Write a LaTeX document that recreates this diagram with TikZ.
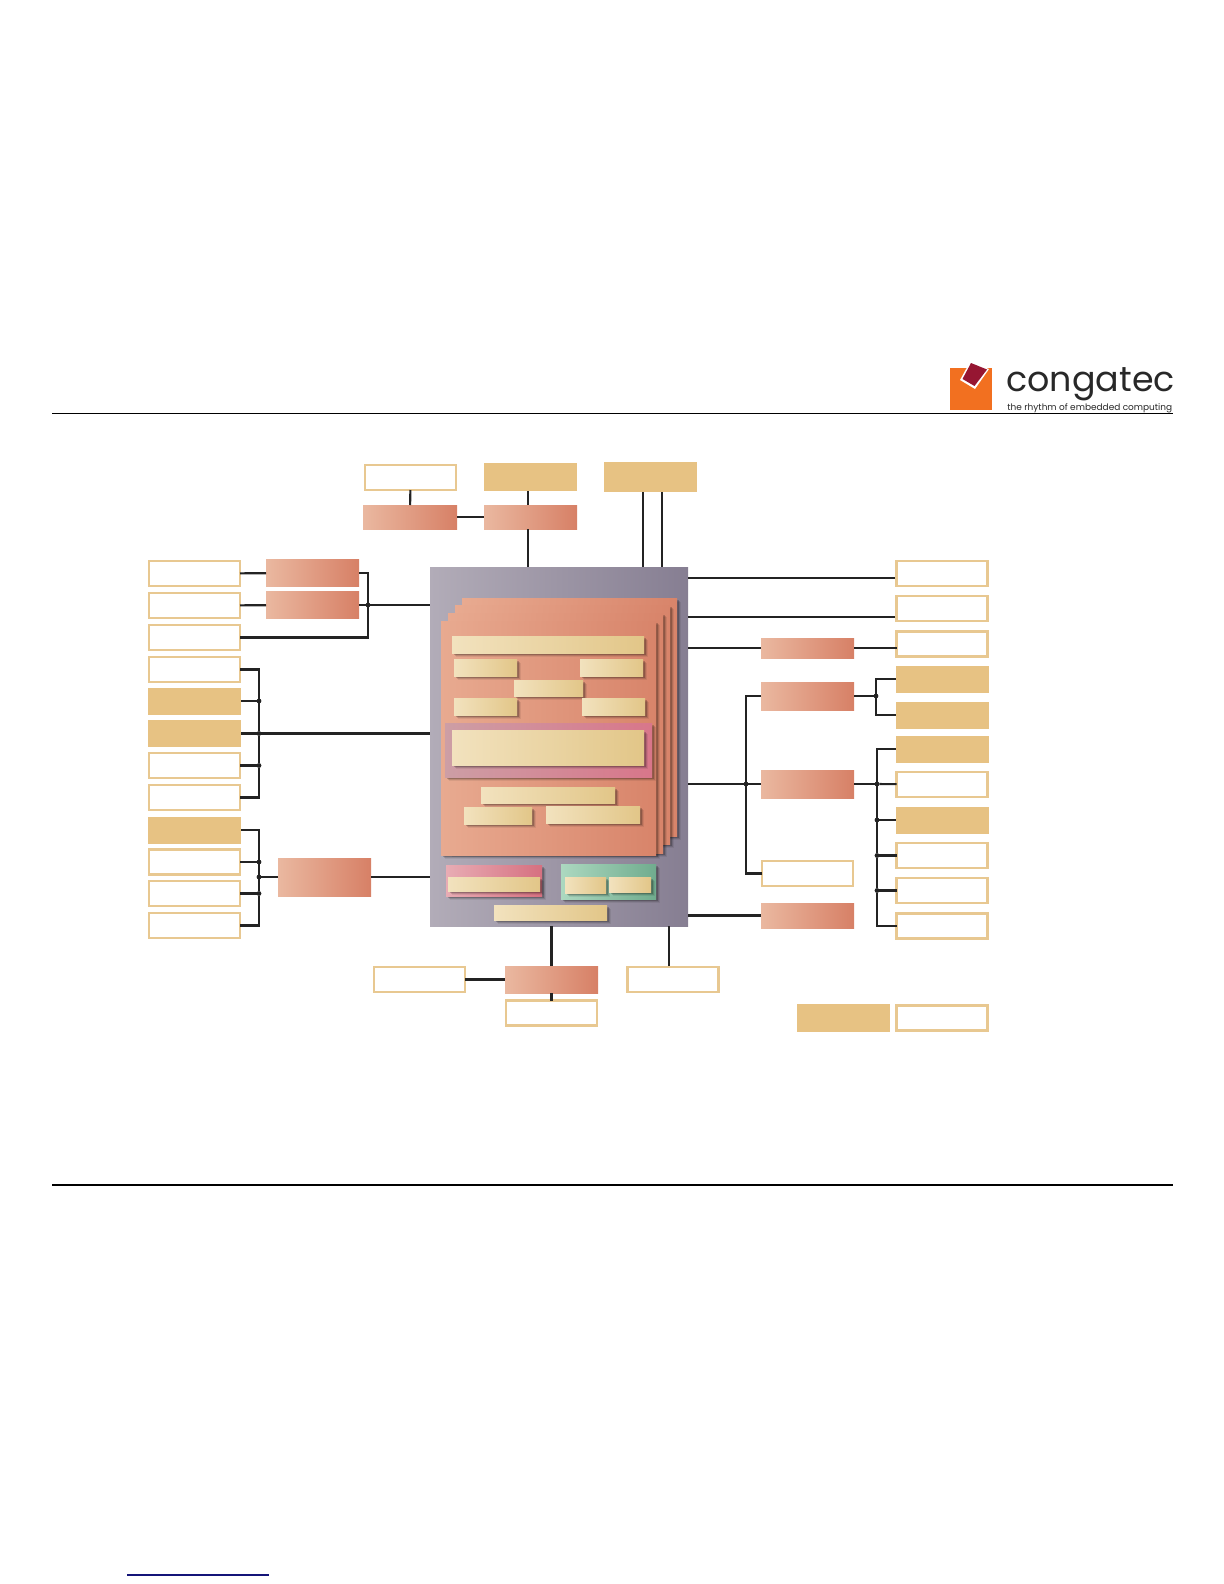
\documentclass[tikz,border=0pt]{standalone}
\usepackage{fontspec}
\usetikzlibrary{shadows}
\newfontfamily\logofont{Poppins}
\definecolor{wire}{RGB}{35,35,35}
\definecolor{slotedge}{RGB}{232,200,145}
\definecolor{slotfill}{RGB}{231,194,131}
\definecolor{bridgeL}{RGB}{234,184,160}
\definecolor{bridgeR}{RGB}{215,128,102}
\definecolor{chipL}{RGB}{178,172,184}
\definecolor{chipR}{RGB}{134,126,146}
\definecolor{sheetL}{RGB}{232,170,144}
\definecolor{sheetR}{RGB}{216,132,106}
\definecolor{unitL}{RGB}{242,226,190}
\definecolor{unitR}{RGB}{226,198,136}
\definecolor{pinkL}{RGB}{205,158,165}
\definecolor{pinkR}{RGB}{216,118,138}
\definecolor{pinktopL}{RGB}{232,172,180}
\definecolor{pinktopR}{RGB}{214,112,128}
\definecolor{greenL}{RGB}{172,216,192}
\definecolor{greenR}{RGB}{112,172,142}
\definecolor{logoorange}{RGB}{242,112,32}
\definecolor{logored}{RGB}{150,22,50}
\definecolor{logotext}{RGB}{40,40,40}
\definecolor{linkblue}{RGB}{20,20,120}

\begin{document}
\begin{tikzpicture}[
  x=0.5bp, y=-0.5bp,
  sized/.style 2 args={minimum width=#1*0.5bp, minimum height=#2*0.5bp},
  plain/.style={rectangle, inner sep=0pt, outer sep=0pt, sized={93}{27}},
  slot/.style={plain, draw=slotedge, fill=white, line width=1.35pt, sized={91}{25}},
  slotsolid/.style={plain, fill=slotfill},
  bridge/.style={plain, left color=bridgeL, right color=bridgeR},
  softshadow/.style={
    drop shadow={shadow xshift=2.2pt, shadow yshift=-2.2pt, opacity=0.07, fill=black},
    drop shadow={shadow xshift=1.5pt, shadow yshift=-1.5pt, opacity=0.12, fill=black},
    drop shadow={shadow xshift=0.9pt, shadow yshift=-0.9pt, opacity=0.2, fill=black}},
  sheet/.style={plain, left color=sheetL, right color=sheetR, softshadow},
  unit/.style={plain, left color=unitL, right color=unitR, softshadow},
  link/.style={draw=wire, line width=1.05pt},
  linkthick/.style={draw=wire, line width=1.25pt},
  dot/.style={circle, fill=wire, inner sep=0pt, outer sep=0pt, minimum size=2.4pt},
]

  % Page frame, same size as the letter sheet
  \path[use as bounding box] (0,0) rectangle (1224,1584);

  % --- Logo and page rules ---
  \fill[logoorange] (950,368) rectangle (992,410);
  \fill[white] (970,362) -- (989,369) -- (975,389) -- (960,380) -- cycle;
  \fill[logored] (971,363) -- (987,369.5) -- (974.5,386) -- (962.5,379) -- cycle;
  \node[font=\logofont\fontsize{17.5}{17.5}\selectfont, text=logotext, inner sep=0pt, anchor=base west]
    (logoname) at (1006,391) {congatec};
  \node[font=\logofont\fontsize{4.5}{5}\selectfont, text=logotext, inner sep=0pt, anchor=base west]
    (logotag) at (1007,410) {the rhythm of embedded computing};
  \draw[black, line width=0.45pt] (52,413) -- (1173,413);
  \draw[black, line width=0.6pt] (52,1185) -- (1173,1185);
  \draw[linkblue, line width=0.6pt] (127,1575) -- (269,1575);

  % --- Carrier (grey) ---
  \node[plain, left color=chipL, right color=chipR, sized={258}{359}] (chip) at (559,746.5) {};

  % --- Stacked sheets, back to front ---
  \node[sheet, sized={215}{238}] (sheetD) at (569.5,717) {};
  \node[sheet, sized={215}{239}] (sheetC) at (562.5,724.5) {};
  \node[sheet, sized={215}{240}] (sheetB) at (555.5,733) {};
  \node[sheet, sized={215}{234}] (sheetA) at (548.5,738) {};

  % --- Units on the front sheet ---
  \node[unit, sized={192}{17}] (unitA) at (548,644.5) {};
  \node[unit, sized={63}{17}] (unitB) at (485.5,667.5) {};
  \node[unit, sized={63}{17}] (unitC) at (611.5,667.5) {};
  \node[unit, sized={69}{16}] (unitD) at (548.5,688) {};
  \node[unit, sized={63}{17}] (unitE) at (485.5,706.5) {};
  \node[unit, sized={63}{17}] (unitF) at (613.5,706.5) {};
  \node[plain, left color=pinkL, right color=pinkR, softshadow, sized={207}{54}] (memory) at (548.5,750) {};
  \node[unit, sized={192}{35}] (unitG) at (548,747.5) {};
  \node[unit, sized={134}{16}] (unitH) at (548,795) {};
  \node[unit, sized={68}{17}] (unitI) at (498,815.5) {};
  \node[unit, sized={94}{17}] (unitJ) at (593,814.5) {};

  % --- Lower blocks on the carrier ---
  \node[plain, left color=pinktopL, right color=pinktopR, softshadow, sized={96}{31}] (lowerpink) at (494,880.5) {};
  \node[unit, sized={92}{14}] (unitK) at (494,884) {};
  \node[plain, left color=greenL, right color=greenR, softshadow, sized={95}{35}] (lowergreen) at (608.5,881.5) {};
  \node[unit, sized={41}{16}] (unitL) at (585.5,885) {};
  \node[unit, sized={42}{15}] (unitM) at (630,884.5) {};
  \node[unit, sized={113}{15}] (unitN) at (550.5,912.5) {};

  % --- Left column ---
  \foreach \n/\y/\kind in {lboxA/573.5/slot, lboxB/605.5/slot, lboxC/637.5/slot, lboxD/669.5/slot,
                           lboxE/701/slotsolid, lboxF/733.5/slotsolid, lboxG/765.5/slot, lboxH/797.5/slot,
                           lboxI/830/slotsolid, lboxJ/862/slot, lboxK/893.5/slot, lboxL/925.5/slot}
    \node[\kind] (\n) at (194.5,\y) {};
  \node[bridge] (lbridgeA) at (312.5,573) {};
  \node[bridge] (lbridgeB) at (312.5,605) {};
  \node[bridge, sized={93}{38}] (lbridgeC) at (324.5,877) {};

  % --- Top row ---
  \node[slot] (tboxA) at (410.5,477.5) {};
  \node[slotsolid, sized={93}{28}] (tboxB) at (530.5,477) {};
  \node[slotsolid, sized={93}{30}] (tboxC) at (650.5,477) {};
  \node[bridge, sized={94}{24}] (tbridgeA) at (410,517) {};
  \node[bridge, sized={93}{24}] (tbridgeB) at (530.5,517) {};
  \coordinate (tfeedA) at (528,505);
  \coordinate (tfeedB) at (643,492);
  \coordinate (tfeedC) at (662,492);

  % --- Bottom row ---
  \node[slot] (bboxA) at (419.5,979.5) {};
  \node[bridge] (bbridge) at (551.5,979.5) {};
  \node[slot] (bboxB) at (551.5,1013) {};
  \node[slot] (bboxC) at (673,979.5) {};
  \coordinate (bfeed) at (669,966);

  % --- Right column ---
  \foreach \n/\y/\kind in {rboxA/573.5/slot, rboxB/608.5/slot, rboxC/644/slot, rboxD/679/slotsolid,
                           rboxE/715/slotsolid, rboxF/749/slotsolid, rboxG/784.5/slot, rboxH/820/slotsolid,
                           rboxI/855.5/slot, rboxJ/890.5/slot, rboxK/926/slot}
    \node[\kind] (\n) at (942,\y) {};
  \node[bridge, sized={93}{20}] (rbridgeA) at (807.5,648) {};
  \node[bridge, sized={93}{28}] (rbridgeB) at (807.5,696) {};
  \node[bridge, sized={93}{28}] (rbridgeC) at (807.5,784) {};
  \node[slot] (rboxM) at (807.5,873.5) {};
  \node[bridge, sized={93}{25}] (rbridgeD) at (807.5,915.5) {};
  \coordinate (rfeedA) at (895,578);
  \coordinate (rfeedB) at (895,617);

  % --- Legend ---
  \node[slotsolid, sized={93}{28}] (legendA) at (843.5,1018) {};
  \node[slot] (legendB) at (942,1018) {};

  % --- Junctions ---
  \node[dot] (jlA) at (368,605) {};
  \node[dot] (jlB) at (259,701) {};
  \node[dot] (jlC) at (259,733.5) {};
  \node[dot] (jlD) at (259,765.5) {};
  \node[dot] (jlE) at (259,862) {};
  \node[dot] (jlF) at (259,877) {};
  \node[dot] (jlG) at (259,893.5) {};
  \node[dot] (jrA) at (746,784) {};
  \node[dot] (jrB) at (876,696) {};
  \node[dot] (jrC) at (877,784) {};
  \node[dot] (jrD) at (877,820) {};
  \node[dot] (jrE) at (877,855.5) {};
  \node[dot] (jrF) at (877,890.5) {};

  % --- Connectors, left ---
  \draw[link] (lboxA) -- (lbridgeA);
  \draw[link] (lboxB) -- (lbridgeB);
  \draw[link] (lbridgeA.east) -| (jlA);
  \draw[link] (lboxC.east) -| (jlA);
  \draw[link] (lbridgeB.east) -- (jlA);
  \draw[link] (jlA) -- (jlA -| chip.west);
  \draw[link] (lboxD.east) -| (jlB);
  \draw[link] (lboxE) -- (jlB);
  \draw[link] (jlB) -- (jlC);
  \draw[link] (jlC) -- (jlD);
  \draw[link] (lboxF) -- (jlC);
  \draw[link] (jlC) -- (jlC -| chip.west);
  \draw[link] (lboxG) -- (jlD);
  \draw[link] (lboxH.east) -| (jlD);
  \draw[link] (lboxI.east) -| (jlE);
  \draw[link] (lboxJ) -- (jlE);
  \draw[link] (jlE) -- (jlF);
  \draw[link] (jlF) -- (jlG);
  \draw[link] (lboxK) -- (jlG);
  \draw[link] (lboxL.east) -| (jlG);
  \draw[linkthick] (jlF) -- (jlF -| lbridgeC.west);
  \draw[linkthick] (jlF -| lbridgeC.east) -- (jlF -| chip.west);

  % --- Connectors, top ---
  \draw[link] (tboxA) -- (tbridgeA);
  \draw[link] (tbridgeA) -- (tbridgeB);
  \draw[link] (tfeedA |- tboxB.south) -- (tfeedA);
  \draw[link] (tfeedA |- tbridgeB.south) -- (tfeedA |- chip.north);
  \draw[link] (tfeedB) -- (tfeedB |- chip.north);
  \draw[link] (tfeedC) -- (tfeedC |- chip.north);

  % --- Connectors, bottom ---
  \draw[linkthick] (bbridge) -- (bbridge |- chip.south);
  \draw[link] (bbridge) -- (bboxB);
  \draw[link] (bboxA) -- (bbridge);
  \draw[link] (bfeed) -- (bfeed |- chip.south);

  % --- Connectors, right ---
  \draw[linkthick] (rfeedA) -- (rfeedA -| chip.east);
  \draw[linkthick] (rfeedB) -- (rfeedB -| chip.east);
  \draw[link] (rbridgeA) -- (rbridgeA.west -| chip.east);
  \draw[link] (rbridgeA.east) -- (rbridgeA.east -| rboxC.west);
  \draw[link] (jrA) -- (jrA -| chip.east);
  \draw[link] (jrA) -- (rbridgeC);
  \draw[link] (rbridgeB.west) -| (jrA);
  \draw[link] (rboxM.west) -| (jrA);
  \draw[linkthick] (rbridgeD) -- (rbridgeD.west -| chip.east);
  \draw[linkthick] (rbridgeB) -- (jrB);
  \draw[link] (rboxD.west) -| (jrB);
  \draw[link] (rboxE.west) -| (jrB);
  \draw[link] (rbridgeC) -- (jrC);
  \draw[link] (jrC) -- (rboxG);
  \draw[link] (rboxF.west) -| (jrC);
  \draw[link] (jrC) -- (jrD);
  \draw[link] (jrD) -- (jrE);
  \draw[link] (jrE) -- (jrF);
  \draw[link] (rboxK.west) -| (jrF);
  \draw[linkthick] (jrD) -- (rboxH);
  \draw[link] (jrE) -- (rboxI);
  \draw[linkthick] (jrF) -- (rboxJ);

\end{tikzpicture}
\end{document}
